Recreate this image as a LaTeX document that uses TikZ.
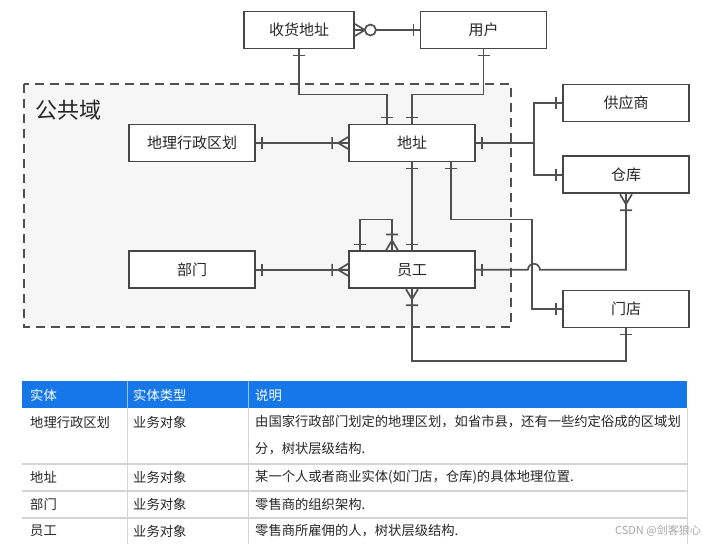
\documentclass[tikz,border=0pt]{standalone}
\usepackage{fontspec}
\setmainfont{Noto Sans CJK SC}
\usetikzlibrary{positioning, calc}
\definecolor{linegray}{RGB}{80,80,80}
\definecolor{boxgray}{RGB}{70,70,70}
\definecolor{hdblue}{RGB}{22,119,232}
\definecolor{gridgray}{RGB}{212,212,212}
\definecolor{domfill}{RGB}{246,246,246}
\tikzset{
  entity/.style={rectangle, draw=boxgray, line width=1.8pt, fill=white, minimum width=126pt, minimum height=37pt, text centered, font=\fontsize{15}{18}\selectfont, text=black!85},
  conn/.style={draw=linegray, line width=1.7pt},
  erline/.style={draw=linegray, line width=1.7pt},
  domainbox/.style={draw=linegray, line width=1.7pt, dash pattern=on 9pt off 6pt, fill=domfill},
  cell/.style={anchor=west, inner sep=0pt, font=\fontsize{13.3}{16}\selectfont, text=black!85},
  headcell/.style={cell, text=white}
}
% Marcas de cardinalidad (punto del borde, angulo hacia fuera)
\newcommand{\erone}[2]{\draw[erline, shift={(#1)}, rotate=#2] (6pt,-6pt) -- (6pt,6pt);}
\newcommand{\ermany}[2]{\draw[erline, shift={(#1)}, rotate=#2] (0pt,-6pt) -- (10pt,0pt) -- (0pt,6pt) (0pt,0pt) -- (10pt,0pt) (16pt,-6pt) -- (16pt,6pt);}
\newcommand{\erzeromany}[2]{
    \draw[erline, shift={(#1)}, rotate=#2] (0pt,-6pt) -- (10pt,0pt) -- (0pt,6pt) (0pt,0pt) -- (10pt,0pt);
    \draw[erline, fill=white, shift={(#1)}, rotate=#2] (15.5pt,0pt) circle[radius=5.5pt];
}

\begin{document}
\begin{tikzpicture}[x=1pt, y=-1pt]
    \useasboundingbox (0,0) rectangle (703,544);

    % Dominio comun
    \draw[domainbox] (24,84) rectangle (511,327);
    \node[anchor=west, inner sep=0pt, font=\fontsize{22}{24}\selectfont, text=black!85] (ggy) at (35,110) {公共域};

    % ==========================================
    % ENTIDADES
    % ==========================================
    \node[entity] (dz) at (412,143) {地址};
    \node[entity, left=92pt of dz] (dlxz) {地理行政区划};
    \node[entity, below=88pt of dz] (yg) {员工};
    \node[entity, left=92pt of yg] (bm) {部门};
    \node[entity, minimum width=110pt] (shdz) at (299,30) {收货地址};
    \node[entity] (yh) at (483.5,30) {用户};
    \node[entity] (gys) at (626,103) {供应商};
    \node[entity, below=33pt of gys] (ck) {仓库};
    \node[entity] (md) at (626,309) {门店};

    % ==========================================
    % RELACIONES
    % ==========================================
    \draw[conn] (shdz.east) -- (yh.west);
    \draw[conn] (shdz.south) -- ++(0,45) -| ([xshift=-25pt]dz.north);
    \draw[conn] (yh.south) -- ++(0,45) -| (dz.north);
    \draw[conn] (dlxz.east) -- (dz.west);
    \draw[conn] (dz.east) -- ++(58,0) coordinate (br) |- (gys.west);
    \draw[conn] (br) |- (ck.west);
    \draw[conn] (dz.south) -- (yg.north);
    \draw[conn] ([xshift=39pt]dz.south) -- ++(0,57) -| ([xshift=-30pt]md.west) -- (md.west);
    \draw[conn] (yg.east) -- ([xshift=52pt]yg.east) arc[start angle=180, end angle=0, radius=6pt] -| (ck.south);
    \draw[conn] (bm.east) -- (yg.west);
    \draw[conn] ([xshift=-52pt]yg.north) -- ++(0,-31) -| ([xshift=-20pt]yg.north);
    \draw[conn] (yg.south) -- ++(0,72) -| (md.south);

    % --- cardinalidades ---
    \erzeromany{shdz.east}{0}
    \erone{yh.west}{180}
    \erone{shdz.south}{-90}
    \erone{[xshift=-25pt]dz.north}{90}
    \erone{yh.south}{-90}
    \erone{dz.north}{90}
    \erone{dlxz.east}{0}
    \ermany{dz.west}{180}
    \erone{dz.east}{0}
    \erone{gys.west}{180}
    \erone{ck.west}{180}
    \erone{dz.south}{-90}
    \erone{yg.north}{90}
    \erone{[xshift=39pt]dz.south}{-90}
    \erone{md.west}{180}
    \erone{yg.east}{0}
    \ermany{ck.south}{-90}
    \erone{bm.east}{0}
    \ermany{yg.west}{180}
    \erone{[xshift=-52pt]yg.north}{90}
    \ermany{[xshift=-20pt]yg.north}{90}
    \ermany{yg.south}{-90}
    \erone{md.south}{-90}

    % ==========================================
    % TABLA
    % ==========================================
    \fill[hdblue] (22,381) rectangle (687,408);
    \draw[white!55!hdblue, line width=0.8pt] (127,381) -- (127,408) (248,381) -- (248,408);
    \draw[gridgray, line width=0.8pt] (127,408) -- (127,544) (248,408) -- (248,544) (687,408) -- (687,544);
    \foreach \y in {464,491,518} {
        \draw[gridgray, line width=2pt] (22,\y) -- (687,\y);
    }

    \node[headcell] (h1) at (30,395) {实体};
    \node[headcell] (h2) at (133,395) {实体类型};
    \node[headcell] (h3) at (255,395) {说明};

    \node[cell] (a1) at (30,422) {地理行政区划};
    \node[cell] (a2) at (133,422) {业务对象};
    \node[cell] (a3) at (255,422) {由国家行政部门划定的地理区划，如省市县，还有一些约定俗成的区域划};
    \node[cell] (a4) at (255,449) {分，树状层级结构.};

    \node[cell] (b1) at (30,477) {地址};
    \node[cell] (b2) at (133,477) {业务对象};
    \node[cell] (b3) at (255,477) {某一个人或者商业实体(如门店，仓库)的具体地理位置.};

    \node[cell] (c1) at (30,504) {部门};
    \node[cell] (c2) at (133,504) {业务对象};
    \node[cell] (c3) at (255,504) {零售商的组织架构.};

    \node[cell] (d1) at (30,531) {员工};
    \node[cell] (d2) at (133,531) {业务对象};
    \node[cell] (d3) at (255,531) {零售商所雇佣的人，树状层级结构.};

    % Marca de agua
    \node[anchor=east, inner sep=0pt, font=\fontsize{11}{12}\selectfont, text=gray!70] (wm) at (701,531) {CSDN @剑客狼心};

\end{tikzpicture}
\end{document}
